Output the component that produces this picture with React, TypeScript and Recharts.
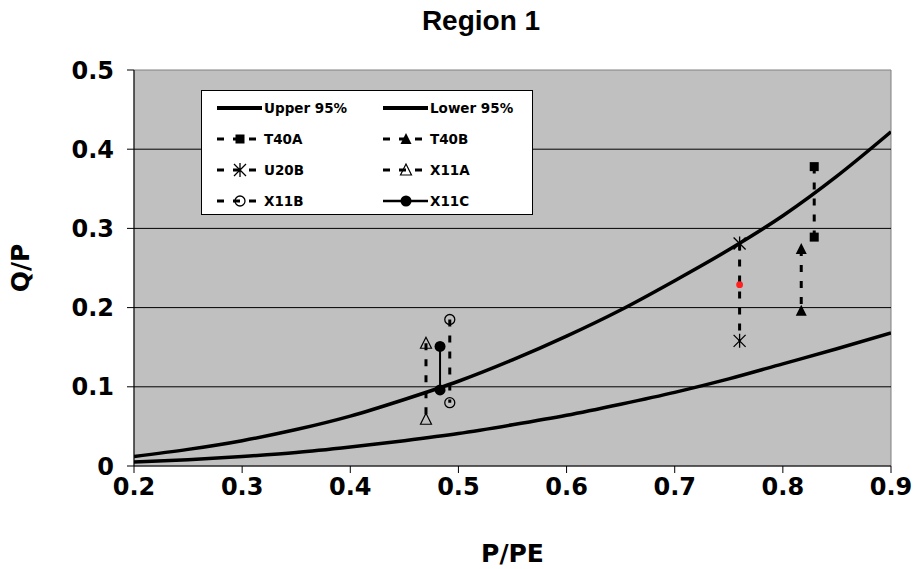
import {
  ComposedChart,
  Line,
  Scatter,
  XAxis,
  YAxis,
  ReferenceLine,
  ReferenceArea,
  Legend,
} from "recharts";

// axis ticks
const xTicks = [0.2, 0.3, 0.4, 0.5, 0.6, 0.7, 0.8, 0.9];
const yTicks = [0, 0.1, 0.2, 0.3, 0.4, 0.5];
const gridLevels = [0.1, 0.2, 0.3, 0.4];

// 95% band curves
const bandX = [0.2, 0.25, 0.3, 0.35, 0.4, 0.45, 0.5, 0.55, 0.6, 0.65, 0.7, 0.75, 0.8, 0.85, 0.9];
const upper95 = [0.012, 0.021, 0.032, 0.046, 0.063, 0.084, 0.107, 0.134, 0.164, 0.197, 0.234, 0.273, 0.316, 0.366, 0.422];
const lower95 = [0.005, 0.008, 0.012, 0.017, 0.024, 0.032, 0.041, 0.052, 0.064, 0.078, 0.093, 0.11, 0.129, 0.148, 0.168];

// test pairs (P/PE, Q/P)
const t40a = [{ x: 0.829, y: 0.378 }, { x: 0.829, y: 0.289 }];
const t40b = [{ x: 0.817, y: 0.274 }, { x: 0.817, y: 0.196 }];
const u20b = [{ x: 0.76, y: 0.281 }, { x: 0.76, y: 0.158 }];
const x11a = [{ x: 0.47, y: 0.155 }, { x: 0.47, y: 0.059 }];
const x11b = [{ x: 0.492, y: 0.185 }, { x: 0.492, y: 0.08 }];
const x11c = [{ x: 0.483, y: 0.151 }, { x: 0.483, y: 0.096 }];
const u20bMid = [{ x: 0.76, y: 0.229 }];

const upperData = bandX.map((x, i) => ({ x, y: upper95[i] }));
const lowerData = bandX.map((x, i) => ({ x, y: lower95[i] }));

const FONT = "'DejaVu Sans', Verdana, sans-serif";
const DASH = "7 9";

type MarkerKind = "none" | "square" | "triangle" | "asterisk" | "openTriangle" | "openCircle" | "circle";

function Marker({ kind, cx, cy }: { kind: MarkerKind; cx: number; cy: number }) {
  switch (kind) {
    case "square":
      return <rect x={cx - 4.5} y={cy - 4.5} width={9} height={9} fill="#000" />;
    case "triangle":
      return <polygon points={`${cx},${cy - 6} ${cx - 5.5},${cy + 5} ${cx + 5.5},${cy + 5}`} fill="#000" />;
    case "openTriangle":
      return (
        <polygon
          points={`${cx},${cy - 6} ${cx - 5.5},${cy + 5} ${cx + 5.5},${cy + 5}`}
          fill="none"
          stroke="#000"
          strokeWidth={1.2}
        />
      );
    case "asterisk":
      return (
        <path
          d={`M${cx - 6},${cy - 6}L${cx + 6},${cy + 6}M${cx + 6},${cy - 6}L${cx - 6},${cy + 6}M${cx},${cy - 7}L${cx},${cy + 7}`}
          stroke="#000"
          strokeWidth={1.3}
          fill="none"
        />
      );
    case "openCircle":
      return <circle cx={cx} cy={cy} r={5} fill="none" stroke="#000" strokeWidth={1.3} />;
    case "circle":
      return <circle cx={cx} cy={cy} r={5.5} fill="#000" />;
    default:
      return null;
  }
}

const legendItems: { label: string; kind: MarkerKind; dashed: boolean; width: number }[] = [
  { label: "Upper 95%", kind: "none", dashed: false, width: 4 },
  { label: "Lower 95%", kind: "none", dashed: false, width: 4 },
  { label: "T40A", kind: "square", dashed: true, width: 3 },
  { label: "T40B", kind: "triangle", dashed: true, width: 3 },
  { label: "U20B", kind: "asterisk", dashed: true, width: 3 },
  { label: "X11A", kind: "openTriangle", dashed: true, width: 3 },
  { label: "X11B", kind: "openCircle", dashed: true, width: 3 },
  { label: "X11C", kind: "circle", dashed: false, width: 2.5 },
];

function LegendBox() {
  return (
    <div
      style={{
        width: 332,
        height: 125,
        background: "#fff",
        border: "1px solid #000",
        boxSizing: "border-box",
      }}
    >
      <svg width={330} height={123} style={{ display: "block" }}>
        {legendItems.map((item, i) => {
          const x0 = 15 + (i % 2) * 166;
          const y = 17 + Math.floor(i / 2) * 31;
          return (
            <g key={item.label}>
              <line
                x1={x0}
                x2={x0 + 45}
                y1={y}
                y2={y}
                stroke="#000"
                strokeWidth={item.width}
                strokeDasharray={item.dashed ? DASH : undefined}
              />
              <Marker kind={item.kind} cx={x0 + 23} cy={y} />
              <text x={x0 + 47} y={y + 5} fontFamily={FONT} fontWeight="bold" fontSize={13.5} fill="#000">
                {item.label}
              </text>
            </g>
          );
        })}
      </svg>
    </div>
  );
}

const pairLine = (dashed: boolean) => ({
  stroke: "#000",
  strokeWidth: dashed ? 3 : 2,
  strokeDasharray: dashed ? DASH : undefined,
});

const pairSeries: { name: string; data: { x: number; y: number }[]; kind: MarkerKind; dashed: boolean }[] = [
  { name: "T40A", data: t40a, kind: "square", dashed: true },
  { name: "T40B", data: t40b, kind: "triangle", dashed: true },
  { name: "U20B", data: u20b, kind: "asterisk", dashed: true },
  { name: "X11A", data: x11a, kind: "openTriangle", dashed: true },
  { name: "X11B", data: x11b, kind: "openCircle", dashed: true },
  { name: "X11C", data: x11c, kind: "circle", dashed: false },
];

const tickStyle = { fontFamily: FONT, fontWeight: "bold", fontSize: 24, fill: "#000" };

export default function App() {
  return (
    <div style={{ position: "absolute", left: 0, top: 0, background: "#fff" }}>
      <ComposedChart width={914} height={569} margin={{ top: 70, right: 23, bottom: 0, left: 0 }}>
        <text x={481} y={30} textAnchor="middle" fontFamily="'Liberation Sans', Arial, sans-serif" fontWeight="bold" fontSize={28} fill="#000">
          Region 1
        </text>
        <ReferenceArea x1={0.2} x2={0.9} y1={0} y2={0.5} fill="#c0c0c0" fillOpacity={1} stroke="#808080" strokeWidth={1} />
        {gridLevels.map((v) => (
          <ReferenceLine key={v} y={v} stroke="#000" strokeWidth={1} />
        ))}
        <XAxis
          dataKey="x"
          type="number"
          domain={[0.2, 0.9]}
          ticks={xTicks}
          allowDataOverflow
          height={103}
          tickSize={7}
          tickMargin={5}
          stroke="#000"
          tick={tickStyle}
          label={{ value: "P/PE", position: "insideBottom", offset: 7, style: { fontFamily: FONT, fontWeight: "bold", fontSize: 25, fill: "#000" } }}
        />
        <YAxis
          type="number"
          domain={[0, 0.5]}
          ticks={yTicks}
          allowDataOverflow
          width={134}
          tickSize={7}
          tickMargin={13}
          stroke="#000"
          tick={tickStyle}
          label={{ value: "Q/P", angle: -90, position: "insideLeft", offset: 20, style: { textAnchor: "middle", fontFamily: FONT, fontWeight: "bold", fontSize: 25, fill: "#000" } }}
        />
        <Line data={upperData} dataKey="y" name="Upper 95%" type="monotone" dot={false} activeDot={false} stroke="#000" strokeWidth={3.5} isAnimationActive={false} />
        <Line data={lowerData} dataKey="y" name="Lower 95%" type="monotone" dot={false} activeDot={false} stroke="#000" strokeWidth={3.5} isAnimationActive={false} />
        {pairSeries.map((s) => (
          <Scatter
            key={s.name}
            name={s.name}
            data={s.data}
            dataKey="y"
            line={pairLine(s.dashed)}
            lineType="joint"
            shape={(p: any) => <Marker kind={s.kind} cx={p.cx} cy={p.cy} />}
            isAnimationActive={false}
          />
        ))}
        <Scatter
          name="U20B mid"
          data={u20bMid}
          dataKey="y"
          shape={(p: any) => <circle cx={p.cx} cy={p.cy} r={3.4} fill="#ff2020" />}
          isAnimationActive={false}
        />
        <Legend
          layout="horizontal"
          verticalAlign="middle"
          align="center"
          content={() => <LegendBox />}
          wrapperStyle={{ left: 201, top: 90, width: 332, height: 125 }}
        />
      </ComposedChart>
    </div>
  );
}
